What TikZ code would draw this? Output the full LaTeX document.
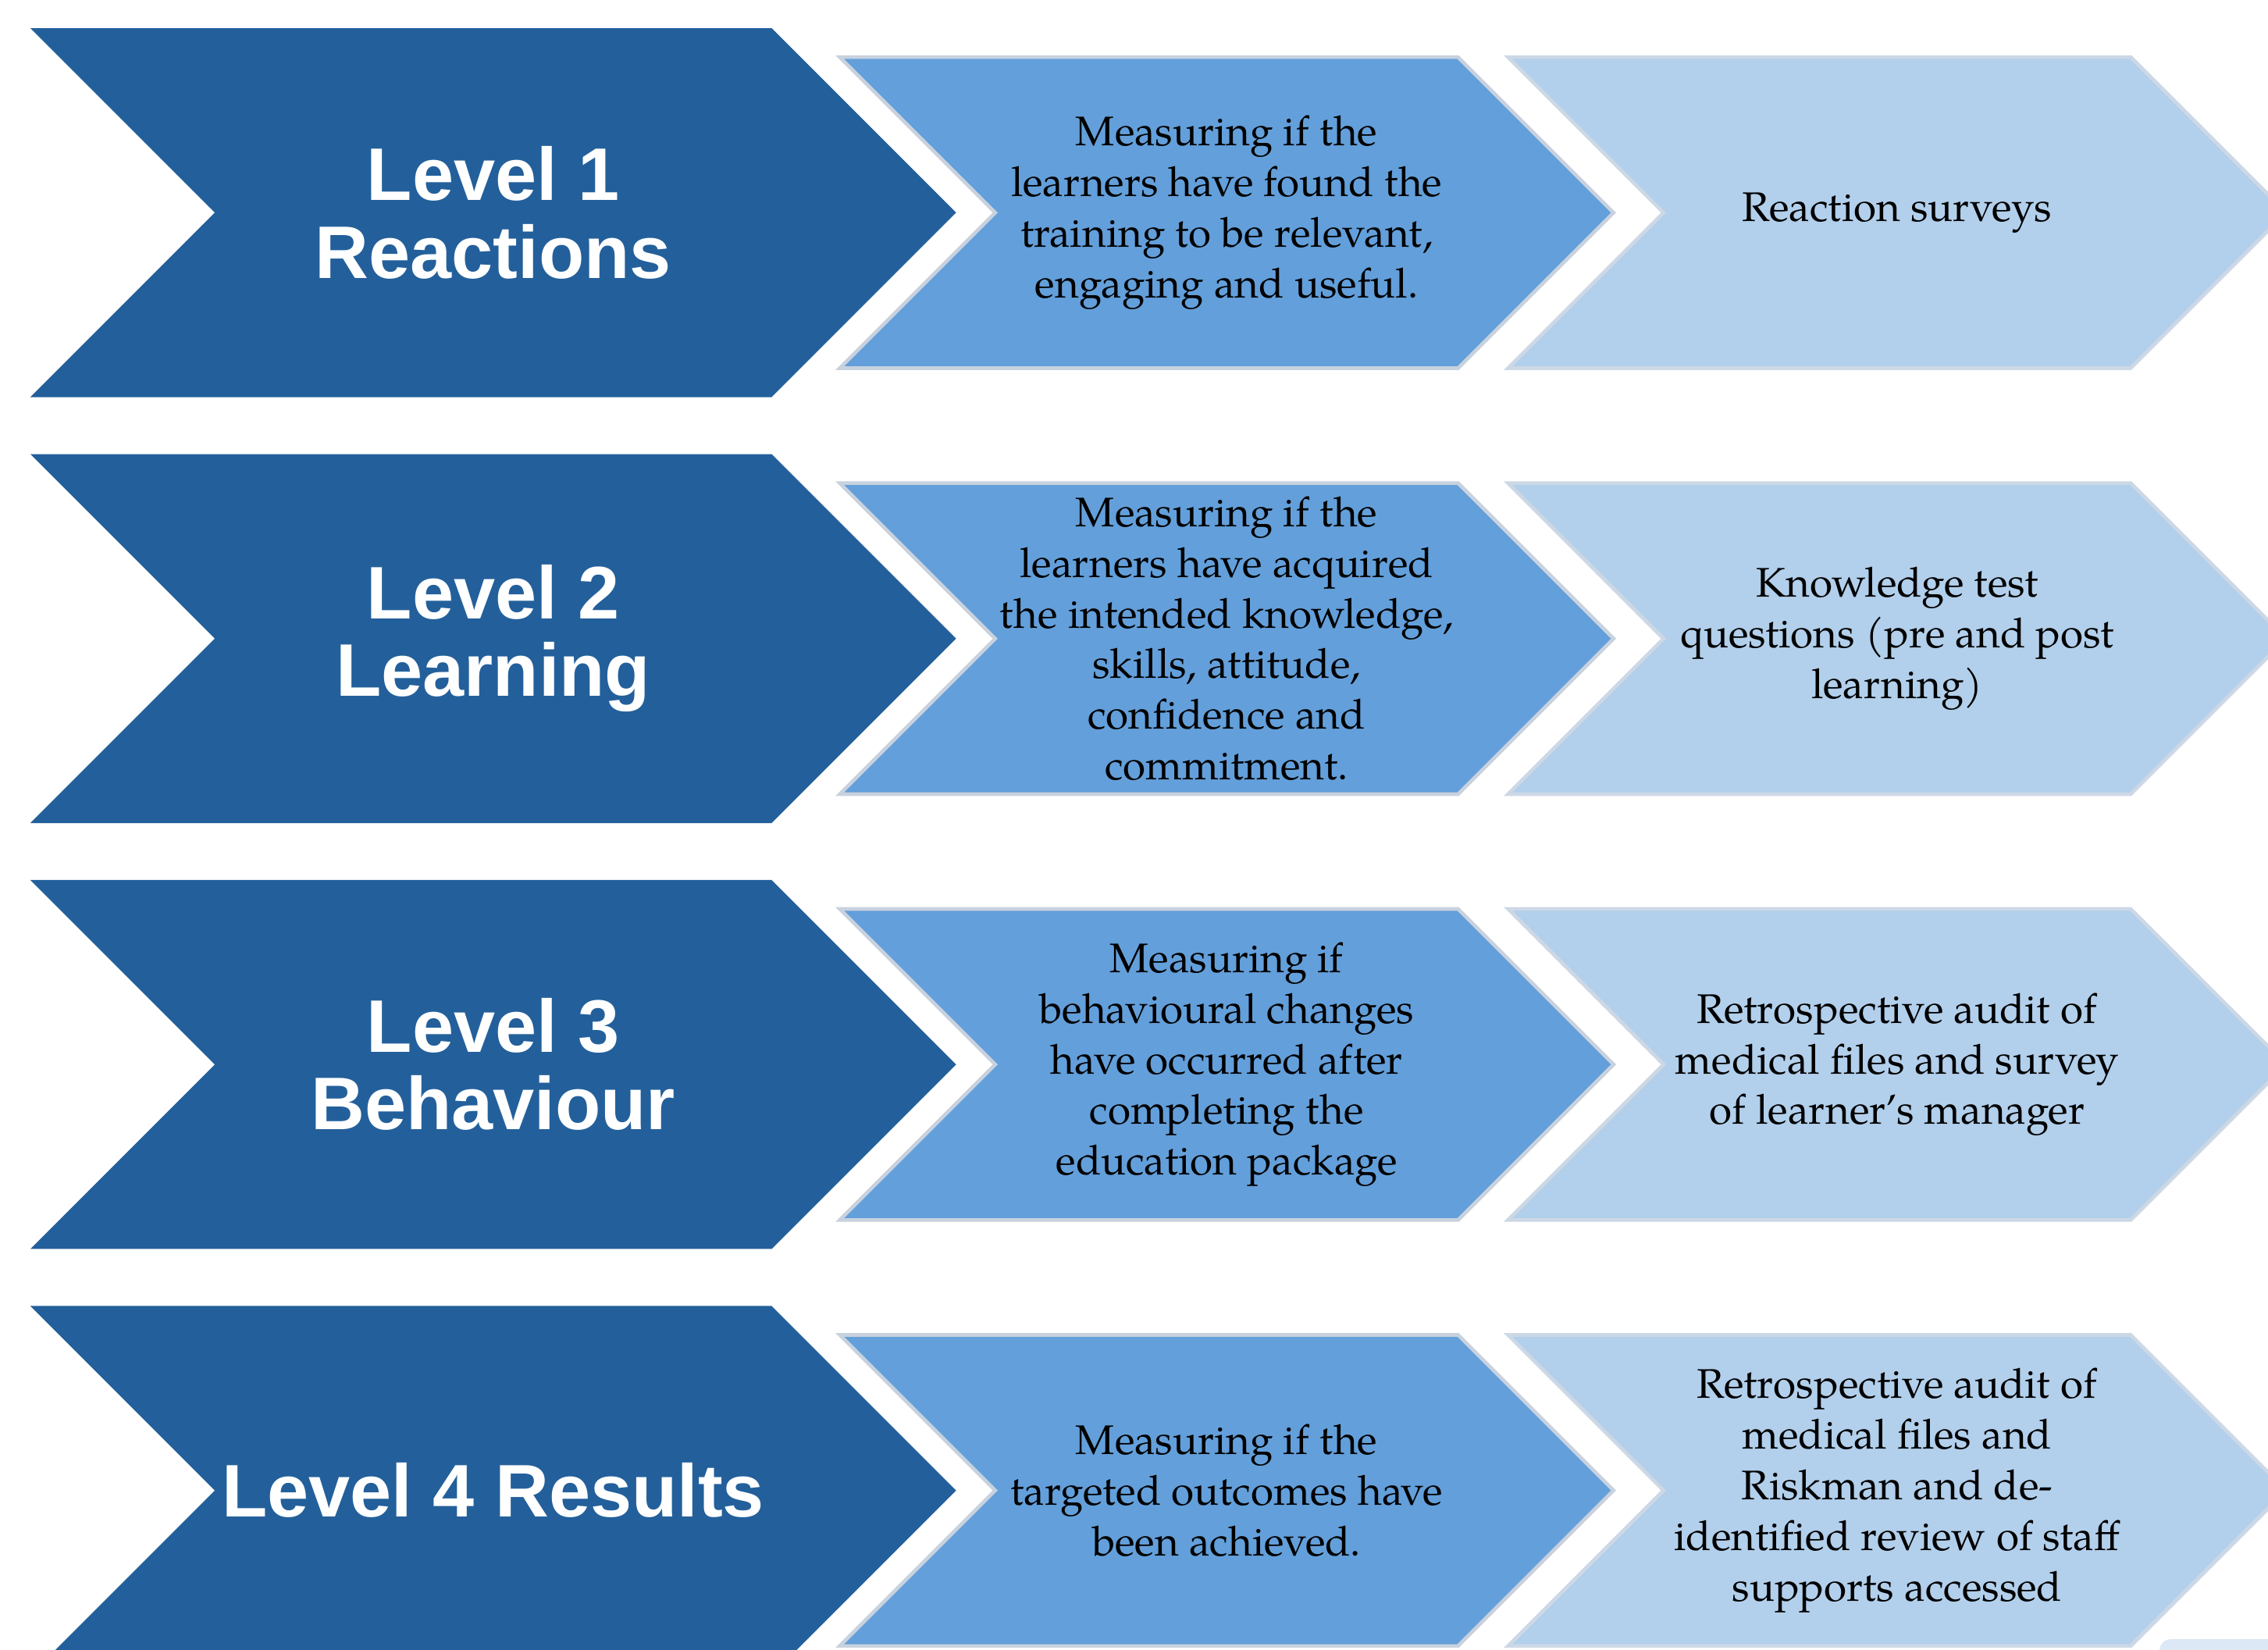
\documentclass[tikz,border=0pt]{standalone}
\usepackage{fontspec}
\setmainfont{TeX Gyre Pagella}
\newfontfamily\levelfont{Liberation Sans}
\usetikzlibrary{positioning,shapes.symbols}

\definecolor{leveldark}{RGB}{35,96,155}
\definecolor{levelmid}{RGB}{99,159,218}
\definecolor{levellight}{RGB}{178,207,235}
\definecolor{midedge}{RGB}{200,210,222}
\definecolor{lightedge}{RGB}{205,216,230}
\definecolor{nextpale}{RGB}{220,232,245}

\begin{document}
\begin{tikzpicture}[
    x = 1pt, y = -1pt,
    node distance = 39pt and 25pt,
    levelstyle/.style = {signal,
                         signal to=east,
                         signal from=west,
                         signal pointer angle=90,
                         fill=leveldark,
                         minimum width=640pt,
                         minimum height=255pt,
                         inner sep=0pt,
                         align=center,
                         text=white,
                         font=\levelfont\bfseries\fontsize{51.5}{53.5}\selectfont},
    whatstyle/.style  = {signal,
                         signal to=east,
                         signal from=west,
                         signal pointer angle=90,
                         draw=midedge,
                         line width=2.5pt,
                         fill=levelmid,
                         minimum width=535pt,
                         minimum height=215pt,
                         inner sep=0pt,
                         align=center,
                         font=\fontsize{28.6}{35}\selectfont},
    howstyle/.style   = {whatstyle,
                         draw=lightedge,
                         fill=levellight,
                         minimum width=538pt}
]
\useasboundingbox (0,0) rectangle (1568,1140);
\fill[white] (0,0) rectangle (1568,1140);

\node (l1) [levelstyle] at (341,147) {Level 1\\Reactions};
\node (l2) [levelstyle, below=of l1] {Level 2\\Learning};
\node (l3) [levelstyle, below=of l2] {Level 3\\Behaviour};
\node (l4) [levelstyle, below=of l3] {Level 4 Results};

\node (w1) [whatstyle, right=of l1] {
Measuring if the\\
learners have found the\\
training to be relevant,\\
engaging and useful.
};
\node (w2) [whatstyle, right=of l2] {
Measuring if the\\
learners have acquired\\
the intended knowledge,\\
skills, attitude,\\
confidence and\\
commitment.
};
\node (w3) [whatstyle, right=of l3] {
Measuring if\\
behavioural changes\\
have occurred after\\
completing the\\
education package
};
\node (w4) [whatstyle, right=of l4] {
Measuring if the\\
targeted outcomes have\\
been achieved.
};

\node (h1) [howstyle, right=31pt of w1] {Reaction surveys};
\node (h2) [howstyle, right=31pt of w2] {
Knowledge test\\
questions (pre and post\\
learning)
};
\node (h3) [howstyle, right=31pt of w3] {
Retrospective audit of\\
medical files and survey\\
of learner’s manager
};
\node (h4) [howstyle, right=31pt of w4] {
Retrospective audit of\\
medical files and\\
Riskman and de-\\
identified review of staff\\
supports accessed
};

\fill[nextpale, rounded corners=8pt] (1493,1133) rectangle (1600,1180);

\end{tikzpicture}
\end{document}
